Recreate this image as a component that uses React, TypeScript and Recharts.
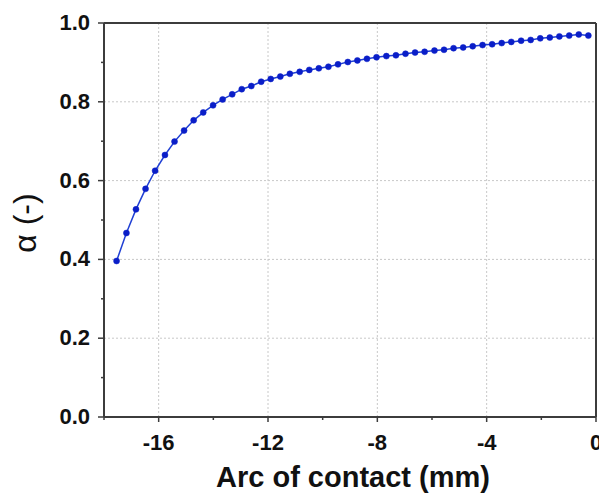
import { LineChart, Line, XAxis, YAxis, ReferenceLine, Label } from 'recharts';

// arc position along the contact (mm) and the matching alpha value
const arcPos = [
  -17.54, -17.18, -16.83, -16.48, -16.13, -15.77, -15.42, -15.07, -14.72, -14.37,
  -14.01, -13.66, -13.31, -12.96, -12.61, -12.25, -11.9, -11.55, -11.2, -10.84,
  -10.49, -10.14, -9.79, -9.44, -9.08, -8.73, -8.38, -8.03, -7.67, -7.32,
  -6.97, -6.62, -6.27, -5.91, -5.56, -5.21, -4.86, -4.51, -4.15, -3.8,
  -3.45, -3.1, -2.74, -2.39, -2.04, -1.69, -1.34, -0.98, -0.63, -0.28,
];
const alpha = [
  0.396, 0.467, 0.527, 0.579, 0.625, 0.665, 0.699, 0.727, 0.753, 0.773,
  0.791, 0.806, 0.819, 0.832, 0.84, 0.851, 0.858, 0.864, 0.871, 0.876,
  0.881, 0.885, 0.889, 0.895, 0.901, 0.905, 0.909, 0.913, 0.916, 0.918,
  0.922, 0.925, 0.927, 0.93, 0.932, 0.936, 0.938, 0.941, 0.944, 0.946,
  0.949, 0.952, 0.955, 0.957, 0.961, 0.963, 0.966, 0.968, 0.971, 0.968,
];

const xTicks = [-18, -16, -14, -12, -10, -8, -6, -4, -2, 0];
const yTicks = [0, 0.1, 0.2, 0.3, 0.4, 0.5, 0.6, 0.7, 0.8, 0.9, 1.0];
const xGrid = [-16, -12, -8, -4];
const yGrid = [0.2, 0.4, 0.6, 0.8];

const data = arcPos.map((x, i) => ({ x, alpha: alpha[i] }));

const FONT = '"Liberation Sans", Arial, sans-serif';
const AXIS = '#3c3c3c';

const XTick = ({ x, y, payload }: any) => {
  const major = Math.abs(payload.value) % 4 === 0;
  return (
    <g>
      <line x1={x} x2={x} y1={y} y2={y + (major ? 5 : 3)} stroke={AXIS} strokeWidth={1.5} />
      {major && (
        <text x={x} y={y + 33} textAnchor="middle" fontFamily={FONT} fontWeight="bold" fontSize={22} fill="#111">
          {payload.value}
        </text>
      )}
    </g>
  );
};

const YTick = ({ x, y, payload }: any) => {
  const major = Math.round(payload.value * 10) % 2 === 0;
  return (
    <g>
      <line x1={x} x2={x - (major ? 6 : 3)} y1={y} y2={y} stroke={AXIS} strokeWidth={1.5} />
      {major && (
        <text x={x - 14} y={y + 7} textAnchor="end" fontFamily={FONT} fontWeight="bold" fontSize={22} fill="#111">
          {payload.value.toFixed(1)}
        </text>
      )}
    </g>
  );
};

const XTitle = ({ viewBox }: any) => (
  <text x={viewBox.x + viewBox.width / 2 + 3} y={viewBox.y + 70} textAnchor="middle"
    fontFamily={FONT} fontWeight="bold" fontSize={29} fill="#111">
    Arc of contact (mm)
  </text>
);

const YTitle = ({ viewBox }: any) => {
  const cx = 25;
  const cy = viewBox.y + viewBox.height / 2 + 3;
  return (
    <text x={cx} y={cy} transform={`rotate(-90 ${cx} ${cy})`} textAnchor="middle" dominantBaseline="central"
      fontFamily={FONT} fontSize={32} fill="#111">
      α (-)
    </text>
  );
};

export default function App() {
  return (
    <div style={{ position: 'absolute', left: 0, top: 0, background: '#fff' }}>
      <LineChart width={599} height={494} data={data} margin={{ top: 23, right: 3, bottom: 0, left: 0 }}>
        {xGrid.map((v) => (
          <ReferenceLine key={`gx${v}`} x={v} stroke="#c8c8c8" strokeDasharray="2 2" strokeWidth={1} />
        ))}
        {yGrid.map((v) => (
          <ReferenceLine key={`gy${v}`} y={v} stroke="#c8c8c8" strokeDasharray="2 2" strokeWidth={1} />
        ))}
        <ReferenceLine y={1} stroke={AXIS} strokeWidth={2} />
        <ReferenceLine x={0} stroke={AXIS} strokeWidth={2} />
        <XAxis
          dataKey="x"
          type="number"
          domain={[-18, 0]}
          ticks={xTicks}
          interval={0}
          height={77}
          tickSize={0}
          tickMargin={0}
          tickLine={false}
          axisLine={{ stroke: AXIS, strokeWidth: 2 }}
          tick={<XTick />}
        >
          <Label content={<XTitle />} />
        </XAxis>
        <YAxis
          type="number"
          domain={[0, 1]}
          ticks={yTicks}
          interval={0}
          width={104}
          tickSize={0}
          tickMargin={0}
          tickLine={false}
          axisLine={{ stroke: AXIS, strokeWidth: 2 }}
          tick={<YTick />}
        >
          <Label content={<YTitle />} />
        </YAxis>
        <Line
          type="linear"
          dataKey="alpha"
          stroke="#2040d4"
          strokeWidth={1.5}
          dot={{ r: 3, fill: '#0a1ec8', stroke: '#0a1ec8', strokeWidth: 0.5 }}
          isAnimationActive={false}
        />
      </LineChart>
    </div>
  );
}
